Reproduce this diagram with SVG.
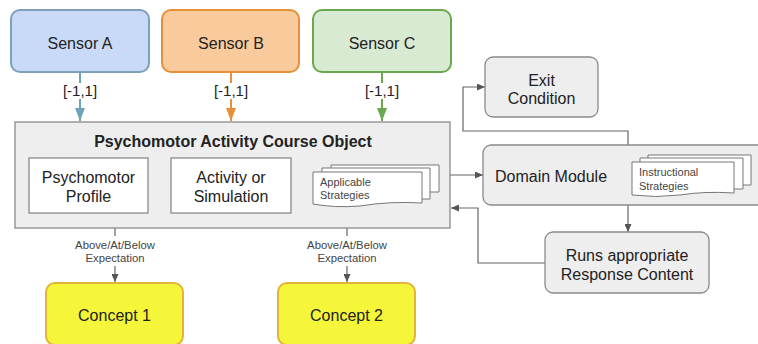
<svg xmlns="http://www.w3.org/2000/svg" width="758" height="344" viewBox="0 0 758 344">
<defs>
<style>
text{font-family:"Liberation Sans",Arial,sans-serif;fill:#222;text-anchor:middle}
.t16{font-size:16px}
.t15{font-size:15px}
.sm{font-size:11.3px;fill:#444}
.doc{font-size:11px;text-anchor:start;fill:#444}
.gb{fill:#eeeeee;stroke:#8a8a8a;stroke-width:1.3}
.wb{fill:#ffffff;stroke:#8a8a8a;stroke-width:1.3}
.pg{fill:#ffffff;stroke:#777;stroke-width:1}
.ln{fill:none;stroke:#666;stroke-width:1.2}
</style>
<marker id="ag" viewBox="0 0 10 10" refX="10" refY="5" markerWidth="8" markerHeight="7" markerUnits="userSpaceOnUse" orient="auto" preserveAspectRatio="none"><path d="M0,0 L10,5 L0,10 Z" fill="#555"/></marker>
<marker id="aa" viewBox="0 0 10 10" refX="10" refY="5" markerWidth="13" markerHeight="10" markerUnits="userSpaceOnUse" orient="auto" preserveAspectRatio="none"><path d="M0,0 L10,5 L0,10 Z" fill="#6fa3b8"/></marker>
<marker id="ab" viewBox="0 0 10 10" refX="10" refY="5" markerWidth="13" markerHeight="10" markerUnits="userSpaceOnUse" orient="auto" preserveAspectRatio="none"><path d="M0,0 L10,5 L0,10 Z" fill="#e69138"/></marker>
<marker id="ac" viewBox="0 0 10 10" refX="10" refY="5" markerWidth="13" markerHeight="10" markerUnits="userSpaceOnUse" orient="auto" preserveAspectRatio="none"><path d="M0,0 L10,5 L0,10 Z" fill="#6aa84f"/></marker>
</defs>
<rect width="758" height="344" fill="#ffffff"/>

<g id="connectors">
<line x1="80" y1="72" x2="80" y2="83" stroke="#6fa3b8" stroke-width="2"/>
<line x1="80" y1="99" x2="80" y2="121" stroke="#6fa3b8" stroke-width="2" marker-end="url(#aa)"/>
<line x1="231" y1="72" x2="231" y2="83" stroke="#e69138" stroke-width="2"/>
<line x1="231" y1="99" x2="231" y2="121" stroke="#e69138" stroke-width="2" marker-end="url(#ab)"/>
<line x1="382" y1="72" x2="382" y2="83" stroke="#6aa84f" stroke-width="2"/>
<line x1="382" y1="99" x2="382" y2="121" stroke="#6aa84f" stroke-width="2" marker-end="url(#ac)"/>
<text class="t15" x="80" y="96">[-1,1]</text>
<text class="t15" x="231" y="96">[-1,1]</text>
<text class="t15" x="382" y="96">[-1,1]</text>

<line class="ln" x1="115" y1="228" x2="115" y2="236"/>
<line class="ln" x1="115" y1="266" x2="115" y2="282" marker-end="url(#ag)"/>
<text class="sm" x="115" y="249">Above/At/Below</text>
<text class="sm" x="115" y="262">Expectation</text>
<line class="ln" x1="347" y1="228" x2="347" y2="236"/>
<line class="ln" x1="347" y1="266" x2="347" y2="282" marker-end="url(#ag)"/>
<text class="sm" x="347" y="249">Above/At/Below</text>
<text class="sm" x="347" y="262">Expectation</text>

<line class="ln" x1="450" y1="175" x2="483" y2="175" marker-end="url(#ag)"/>
<polyline class="ln" points="628,145 628,131 463,131 463,87 485,87" marker-end="url(#ag)"/>
<line class="ln" x1="628" y1="205" x2="628" y2="232" marker-end="url(#ag)"/>
<polyline class="ln" points="545,263 478,263 478,208 451,208" marker-end="url(#ag)"/>
</g>

<g id="sensorA"><rect x="11" y="10" width="138" height="62" rx="9" fill="#c9daf8" stroke="#7d9fb8" stroke-width="2"/><text class="t16" x="80" y="49">Sensor A</text></g>
<g id="sensorB"><rect x="162" y="10" width="137" height="62" rx="9" fill="#f9cb9c" stroke="#e69138" stroke-width="2"/><text class="t16" x="231" y="49">Sensor B</text></g>
<g id="sensorC"><rect x="313" y="10" width="138" height="62" rx="9" fill="#d9ead3" stroke="#6aa84f" stroke-width="2"/><text class="t16" x="382" y="49">Sensor C</text></g>

<g id="courseObject">
<rect class="gb" x="15" y="122" width="435" height="106"/>
<text x="233" y="147" style="font-size:16px;font-weight:bold">Psychomotor Activity Course Object</text>
</g>
<g id="profile"><rect class="wb" x="29" y="158" width="119" height="55"/><text class="t16" x="88.5" y="183">Psychomotor</text><text class="t16" x="88.5" y="202">Profile</text></g>
<g id="activity"><rect class="wb" x="171" y="158" width="120" height="55"/><text class="t16" x="231" y="183">Activity or</text><text class="t16" x="231" y="202">Simulation</text></g>
<g id="applicable">
<path class="pg" d="M331,165 H439 V192 H331 Z"/>
<path class="pg" d="M322,168 H430 V199 H322 Z"/>
<path class="pg" d="M313,172 H422 V203 Q390,201 360,206 Q335,208 313,204 Z"/>
<text class="doc" x="320" y="186">Applicable</text>
<text class="doc" x="320" y="199">Strategies</text>
</g>

<g id="exit"><rect class="gb" x="485" y="57" width="113" height="60" rx="8"/><text class="t16" x="541.5" y="86">Exit</text><text class="t16" x="541.5" y="104">Condition</text></g>

<g id="domain">
<rect class="gb" x="483" y="145" width="290" height="60" rx="8"/>
<text class="t16" x="495" y="182" style="text-anchor:start">Domain Module</text>
<path class="pg" d="M648,155 H751 V185 H648 Z"/>
<path class="pg" d="M640,158 H743 V189 H640 Z"/>
<path class="pg" d="M632,162 H734 V193 Q705,191 680,195 Q655,198 632,195 Z"/>
<text class="doc" x="639" y="176">Instructional</text>
<text class="doc" x="639" y="190">Strategies</text>
</g>

<g id="runs"><rect class="gb" x="545" y="232" width="164" height="61" rx="8"/><text class="t16" x="627" y="261">Runs appropriate</text><text class="t16" x="627" y="280">Response Content</text></g>

<g id="concept1"><rect x="46" y="283" width="137" height="62" rx="9" fill="#f5f53a" stroke="#e2b43c" stroke-width="2"/><text class="t16" x="114.5" y="321">Concept 1</text></g>
<g id="concept2"><rect x="278" y="283" width="137" height="62" rx="9" fill="#f5f53a" stroke="#e2b43c" stroke-width="2"/><text class="t16" x="346.5" y="321">Concept 2</text></g>
</svg>
